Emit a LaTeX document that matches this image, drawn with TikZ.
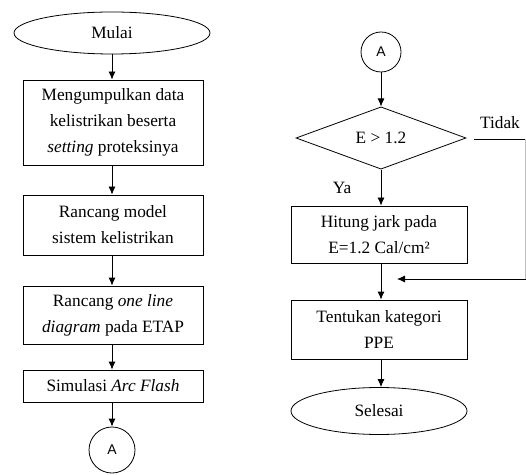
\documentclass[tikz,border=0pt]{standalone}
\usepackage{fontspec}
\setmainfont{Liberation Serif}
\newfontfamily\labsans{Liberation Sans}
\usetikzlibrary{shapes.geometric,arrows.meta}
\begin{document}
\begin{tikzpicture}[x=1pt,y=1pt,
  every node/.style={font=\fontsize{17.3}{26}\selectfont},
  procbox/.style={draw,line width=0.8pt,rectangle,inner sep=0pt,align=center,minimum width=180pt},
  term/.style={draw,line width=0.8pt,ellipse,inner sep=0pt},
  conn/.style={draw,line width=0.8pt,circle,inner sep=0pt,font=\labsans\fontsize{14}{16}\selectfont},
  dec/.style={draw,line width=0.8pt,diamond,inner sep=0pt,minimum width=170pt,minimum height=54pt},
  flow/.style={line width=0.8pt,-{Latex[length=8pt,width=7pt]}},
  plain/.style={line width=0.8pt}]
\useasboundingbox (0,0) rectangle (526,474);
% left column
\node[term,minimum width=196pt,minimum height=42pt] (mulai) at (112,441) {Mulai};
\node[procbox,minimum height=85pt] (b1) at (113,351.5) {Mengumpulkan data\\kelistrikan beserta\\\textit{setting} proteksinya};
\node[procbox,minimum height=60pt] (b2) at (113,249) {Rancang model\\sistem kelistrikan};
\node[procbox,minimum height=58pt] (b3) at (113,159) {Rancang \textit{one line}\\\textit{diagram} pada ETAP};
\node[procbox,minimum height=32pt] (b4) at (113,88) {Simulasi \textit{Arc Flash}};
\node[conn,minimum size=46pt] (a1) at (112,24) {A};
\draw[flow] (mulai.south -| 112,0) -- (b1.north -| 112,0);
\draw[flow] (b1.south -| 112,0) -- (b2.north -| 112,0);
\draw[flow] (b2.south -| 112,0) -- (b3.north -| 112,0);
\draw[flow] (b3.south -| 112,0) -- (b4.north -| 112,0);
\draw[flow] (b4.south -| 112,0) -- (a1.north);
% right column
\node[conn,minimum size=40pt] (a2) at (381,422) {A};
\node[dec] (d) at (381,336) {E > 1.2};
\node[procbox,minimum width=176pt,minimum height=57pt] (h) at (379,239.5) {Hitung jark pada\\E=1.2 Cal/cm²};
\node[procbox,minimum width=176pt,minimum height=59pt] (t) at (379,144.5) {Tentukan kategori\\PPE};
\node[term,minimum width=176pt,minimum height=47pt] (s) at (379,63) {Selesai};
\node (tidak) at (500,351) {Tidak};
\node (ya) at (342,286) {Ya};
\draw[flow] (a2.south) -- (d.north);
\draw[flow] (d.south) -- (h.north -| 381,0);
\draw[flow] (h.south -| 381,0) -- (t.north -| 381,0);
\draw[flow] (t.south -| 381,0) -- (s.north -| 381,0);
\coordinate (t0) at (474,335);
\coordinate (t1) at (526,335);
\coordinate (r1) at (525,335);
\coordinate (r2) at (525,195);
\coordinate (r3) at (526,195);
\coordinate (back) at (397,195);
\draw[plain] (t0) -- (t1);
\draw[plain,gray!50] (r1) -- (r2);
\draw[flow] (r3) -- (back);
\end{tikzpicture}
\end{document}
